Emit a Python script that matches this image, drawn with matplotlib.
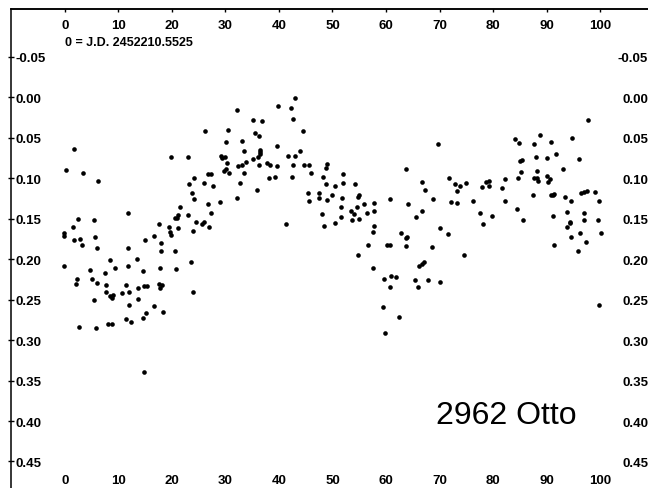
"""
Curva de luz de 2962 Otto (magnitud relativa vs. tiempo desde J.D. 2452210.5525).
"""

import numpy as np
import matplotlib
matplotlib.use("Agg")
import matplotlib.pyplot as plt

# ---------------------------------------------------------------------
# Datos: tiempo y magnitud diferencial, por tramos
# ---------------------------------------------------------------------
t_0_18 = [1.7, 0.2, 3.3, 6.2, 11.8, 2.5, 5.5, 1.5, 17.6, -0.2,
          -0.1, 1.6, 2.9, 3.1, 5.6, 6.0, 11.7, 15.0, 16.7, 17.9,
          18.0, -0.1, 8.4, 9.3, 4.6, 7.5, 11.8, 13.5, 14.5, 17.8,
          2.2, 2.0, 5.1, 5.9, 7.7, 11.4, 14.8, 15.3, 17.5, 18.1,
          17.8, 13.6, 7.7, 8.5, 8.9, 8.7, 10.6, 12.0, 13.7, 5.4,
          12.0, 16.6, 18.3, 15.1, 14.5, 11.4, 12.4, 2.6, 5.8, 8.1,
          8.7, 14.8]
mag_0_18 = [0.064, 0.090, 0.094, 0.103, 0.143, 0.150, 0.151, 0.160, 0.157, 0.168,
            0.171, 0.176, 0.175, 0.182, 0.172, 0.186, 0.186, 0.176, 0.171, 0.180,
            0.190, 0.208, 0.201, 0.211, 0.213, 0.217, 0.208, 0.200, 0.215, 0.211,
            0.225, 0.231, 0.224, 0.230, 0.232, 0.232, 0.233, 0.233, 0.231, 0.232,
            0.236, 0.236, 0.241, 0.245, 0.244, 0.248, 0.242, 0.241, 0.249, 0.250,
            0.257, 0.258, 0.265, 0.267, 0.273, 0.274, 0.278, 0.284, 0.285, 0.280,
            0.280, 0.339]

t_19_38 = [32.2, 35.2, 36.8, 26.2, 30.4, 35.5, 36.3, 30.1, 33.1, 33.4,
           36.5, 36.5, 36.4, 19.9, 22.9, 29.1, 29.4, 29.9, 30.2, 32.3,
           33.1, 33.8, 35.2, 36.0, 36.2, 37.8, 38.3, 29.8, 30.1, 30.7,
           33.5, 38.1, 26.7, 27.2, 24.2, 23.1, 25.9, 27.6, 32.8, 35.9,
           23.7, 24.2, 32.1, 29.0, 26.8, 21.5, 27.3, 22.9, 20.6, 21.0,
           21.2, 19.5, 21.1, 19.7, 19.9, 24.5, 25.6, 25.9, 27.0, 23.9,
           20.6, 23.6, 20.8, 23.9]
mag_19_38 = [0.015, 0.028, 0.029, 0.041, 0.040, 0.044, 0.048, 0.055, 0.054, 0.066,
             0.065, 0.068, 0.070, 0.074, 0.074, 0.073, 0.075, 0.074, 0.081, 0.085,
             0.083, 0.080, 0.076, 0.074, 0.083, 0.081, 0.084, 0.091, 0.089, 0.094,
             0.094, 0.100, 0.095, 0.095, 0.100, 0.107, 0.106, 0.110, 0.106, 0.115,
             0.118, 0.125, 0.124, 0.129, 0.132, 0.135, 0.143, 0.145, 0.149, 0.149,
             0.145, 0.160, 0.161, 0.166, 0.170, 0.154, 0.156, 0.154, 0.160, 0.165,
             0.190, 0.204, 0.212, 0.241]

t_39_58 = [42.9, 39.9, 42.2, 42.7, 44.4, 39.6, 43.9, 41.6, 42.9, 39.6,
           42.6, 44.6, 45.7, 49.0, 48.7, 45.9, 39.3, 42.5, 48.3, 52.0,
           48.7, 50.4, 51.9, 54.2, 45.5, 45.6, 47.4, 47.5, 48.9, 49.9,
           51.7, 54.9, 54.7, 57.8, 54.6, 55.8, 51.6, 53.5, 54.0, 56.4,
           57.7, 48.0, 51.6, 53.6, 55.0, 50.5, 48.4, 41.3, 57.8, 57.6,
           56.6, 54.7, 57.6]
mag_39_58 = [0.001, 0.011, 0.013, 0.027, 0.041, 0.060, 0.066, 0.072, 0.072, 0.085,
             0.084, 0.084, 0.084, 0.082, 0.087, 0.093, 0.098, 0.098, 0.098, 0.095,
             0.107, 0.110, 0.106, 0.107, 0.118, 0.128, 0.118, 0.124, 0.127, 0.120,
             0.124, 0.120, 0.123, 0.130, 0.136, 0.132, 0.136, 0.141, 0.144, 0.143,
             0.140, 0.144, 0.148, 0.152, 0.150, 0.155, 0.159, 0.156, 0.159, 0.166,
             0.182, 0.195, 0.211]

t_59_78 = [69.8, 63.8, 71.8, 66.8, 72.9, 73.8, 74.9, 67.2, 73.2, 60.7,
           68.7, 72.2, 73.2, 76.2, 77.6, 64.1, 66.8, 65.7, 62.8, 63.9,
           63.8, 70.1, 71.6, 60.1, 60.8, 63.8, 68.6, 74.6, 66.2, 66.7,
           67.1, 59.6, 60.9, 61.8, 65.5, 67.8, 70.0, 60.8, 65.9, 59.4,
           62.4, 59.8]
mag_59_78 = [0.058, 0.088, 0.100, 0.104, 0.107, 0.109, 0.106, 0.115, 0.116, 0.126,
             0.125, 0.129, 0.131, 0.128, 0.143, 0.132, 0.140, 0.148, 0.167, 0.172,
             0.174, 0.162, 0.169, 0.182, 0.182, 0.184, 0.185, 0.195, 0.209, 0.206,
             0.203, 0.224, 0.221, 0.222, 0.226, 0.226, 0.228, 0.234, 0.234, 0.259,
             0.271, 0.291]

t_78_100 = [97.8, 88.7, 84.2, 84.8, 87.7, 90.9, 94.7, 91.8, 88.0, 90.0,
            85.1, 85.4, 96.1, 93.0, 85.3, 88.3, 84.7, 82.3, 87.7, 88.2,
            88.4, 90.0, 90.6, 90.3, 78.6, 79.2, 77.9, 79.3, 81.7, 82.3,
            87.4, 90.8, 91.4, 91.2, 93.5, 94.5, 96.5, 97.0, 97.6, 99.1,
            99.9, 78.1, 79.9, 84.4, 85.6, 91.2, 93.9, 94.3, 94.4, 93.8,
            97.0, 97.1, 99.7, 96.3, 100.2, 94.5, 97.4, 91.4, 95.9, 99.9]
mag_78_100 = [0.028, 0.046, 0.051, 0.056, 0.058, 0.055, 0.050, 0.070, 0.074, 0.075,
              0.078, 0.077, 0.076, 0.089, 0.092, 0.091, 0.099, 0.101, 0.099, 0.100,
              0.103, 0.097, 0.101, 0.105, 0.104, 0.103, 0.111, 0.110, 0.112, 0.128,
              0.120, 0.120, 0.119, 0.121, 0.123, 0.128, 0.118, 0.117, 0.116, 0.117,
              0.128, 0.156, 0.147, 0.138, 0.152, 0.146, 0.142, 0.154, 0.155, 0.160,
              0.143, 0.152, 0.152, 0.168, 0.168, 0.173, 0.179, 0.183, 0.190, 0.257]

x_ticks = [0, 10, 20, 30, 40, 50, 60, 70, 80, 90, 100]
y_ticks = [-0.05, 0.00, 0.05, 0.10, 0.15, 0.20, 0.25, 0.30, 0.35, 0.40, 0.45]

titulo = "2962 Otto"
nota_jd = "0 = J.D. 2452210.5525"

t = np.concatenate([t_0_18, t_19_38, t_39_58, t_59_78, t_78_100])
mag = np.concatenate([mag_0_18, mag_19_38, mag_39_58, mag_59_78, mag_78_100])

# ---------------------------------------------------------------------
# Figura
# ---------------------------------------------------------------------
W, H = 648, 489
fig = plt.figure(figsize=(W / 100, H / 100), dpi=100)
# marco: borde izquierdo en x=11 px, superior en y=10 px
ax = fig.add_axes([11 / W, 0, 1 - 11 / W, 1 - 10 / H])

ax.scatter(t, mag, s=11, color="black", linewidths=0, zorder=3)

ax.set_xlim(-10.09, 108.97)
ax.set_ylim(0.4828, -0.1093)

for s in ("right", "bottom"):
    ax.spines[s].set_visible(False)
for s in ("left", "top"):
    ax.spines[s].set_linewidth(1.1)

lab_font = dict(family="Liberation Sans", weight="bold", size=9.5)

# eje inferior (etiquetas dentro del marco) y eje izquierdo
ax.set_xticks(x_ticks)
ax.set_xticklabels([str(v) for v in x_ticks], **lab_font)
ax.tick_params(axis="x", bottom=False, direction="in", pad=-1.2)
for lab in ax.get_xticklabels():
    lab.set_verticalalignment("bottom")

ax.set_yticks(y_ticks)
ax.set_yticklabels([f"{v:.2f}" for v in y_ticks], **lab_font)
ax.tick_params(axis="y", left=True, direction="inout", length=4, width=1, pad=-5.5)
for lab in ax.get_yticklabels():
    lab.set_horizontalalignment("left")

# eje superior
top = ax.secondary_xaxis("top")
top.set_xticks(x_ticks)
top.set_xticklabels([str(v) for v in x_ticks], **lab_font)
top.tick_params(axis="x", direction="in", length=2, width=1, pad=-7.2)
for lab in top.get_xticklabels():
    lab.set_verticalalignment("top")
top.spines["top"].set_linewidth(1.1)

# eje derecho (sin línea, sólo etiquetas)
der = ax.secondary_yaxis("right")
der.set_yticks(y_ticks)
der.set_yticklabels([f"{v:.2f}" for v in y_ticks], **lab_font)
der.tick_params(axis="y", right=False, direction="in", length=0, pad=0.0)
der.spines["right"].set_visible(False)
for lab in der.get_yticklabels():
    lab.set_horizontalalignment("right")

ax.text(0.0, -0.065, nota_jd, ha="left", va="baseline",
        family="Liberation Sans", weight="bold", size=9)
ax.text(69.3, 0.402, titulo, ha="left", va="baseline",
        family="Liberation Sans", size=23)

fig.savefig("out.png", dpi=100)
